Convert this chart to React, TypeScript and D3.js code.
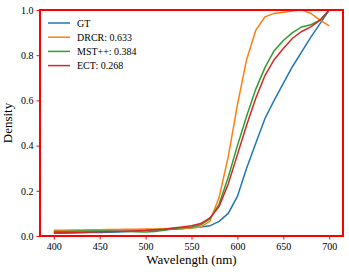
import { useEffect, useRef } from 'react';
import * as d3 from 'd3';

const wavelengths = d3.range(400, 701, 10);

const gt = [0.012, 0.012, 0.013, 0.014, 0.015, 0.016, 0.017, 0.018, 0.02, 0.022, 0.024, 0.026, 0.028, 0.03, 0.032, 0.036, 0.04, 0.045, 0.065, 0.1, 0.175, 0.3, 0.41, 0.52, 0.6, 0.675, 0.75, 0.815, 0.88, 0.94, 1.0];
const drcr = [0.025, 0.025, 0.026, 0.027, 0.028, 0.028, 0.029, 0.029, 0.03, 0.03, 0.031, 0.031, 0.032, 0.033, 0.034, 0.035, 0.04, 0.065, 0.17, 0.35, 0.58, 0.78, 0.91, 0.97, 0.985, 0.99, 0.995, 1.0, 0.985, 0.955, 0.93];
const mst = [0.02, 0.02, 0.021, 0.022, 0.022, 0.022, 0.022, 0.021, 0.02, 0.019, 0.018, 0.02, 0.025, 0.033, 0.036, 0.04, 0.05, 0.075, 0.14, 0.26, 0.4, 0.53, 0.65, 0.745, 0.82, 0.865, 0.9, 0.925, 0.935, 0.955, 1.0];
const ect = [0.015, 0.015, 0.016, 0.017, 0.018, 0.019, 0.02, 0.021, 0.022, 0.023, 0.025, 0.028, 0.03, 0.035, 0.04, 0.045, 0.055, 0.08, 0.13, 0.23, 0.36, 0.49, 0.61, 0.71, 0.78, 0.83, 0.875, 0.905, 0.925, 0.955, 1.0];

const seriesNames = ['GT', 'DRCR: 0.633', 'MST++: 0.384', 'ECT: 0.268'];
const seriesValues = [gt, drcr, mst, ect];
const seriesColors = ['#1f77b4', '#ff7f0e', '#2ca02c', '#d62728'];

const xTicks = [400, 450, 500, 550, 600, 650, 700];
const yTicks = [0, 0.2, 0.4, 0.6, 0.8, 1.0];

const WIDTH = 349;
const HEIGHT = 272;
const MARGIN = { top: 10, right: 6, bottom: 36, left: 40 };
const FONT = "'Liberation Serif', 'Times New Roman', Times, 'DejaVu Serif', serif";

export default function App() {
  const svgRef = useRef<SVGSVGElement>(null);

  useEffect(() => {
    if (!svgRef.current) return;
    const svg = d3.select(svgRef.current);
    svg.selectAll('*').remove();

    const innerWidth = WIDTH - MARGIN.left - MARGIN.right;
    const innerHeight = HEIGHT - MARGIN.top - MARGIN.bottom;

    const x = d3.scaleLinear().domain([385, 715]).range([0, innerWidth]);
    const y = d3.scaleLinear().domain([0, 1]).range([innerHeight, 0]);

    const g = svg.append('g').attr('transform', `translate(${MARGIN.left},${MARGIN.top})`);

    // lines
    const line = d3
      .line<number>()
      .x((_, i) => x(wavelengths[i]))
      .y((d) => y(d));

    seriesValues.forEach((vals, i) => {
      g.append('path')
        .datum(vals)
        .attr('fill', 'none')
        .attr('stroke', seriesColors[i])
        .attr('stroke-width', 1.5)
        .attr('d', line);
    });

    // axes
    const xAxis = g
      .append('g')
      .attr('transform', `translate(0,${innerHeight})`)
      .call(d3.axisBottom(x).tickValues(xTicks).tickSize(3.5).tickPadding(3).tickFormat(d3.format('d')));
    const yAxis = g
      .append('g')
      .call(d3.axisLeft(y).tickValues(yTicks).tickSize(3.5).tickPadding(3).tickFormat(d3.format('.1f')));

    [xAxis, yAxis].forEach((ax) => {
      ax.attr('font-family', null).attr('font-size', null);
      ax.select('.domain').remove();
      ax.selectAll('line').attr('stroke', '#ff0000').attr('stroke-width', 1);
      ax.selectAll('text').style('font-family', FONT).style('font-size', '10px').attr('fill', '#000');
    });

    // frame
    g.append('rect')
      .attr('x', 0)
      .attr('y', 0)
      .attr('width', innerWidth)
      .attr('height', innerHeight)
      .attr('fill', 'none')
      .attr('stroke', '#ff0000')
      .attr('stroke-width', 2);

    // legend
    const legend = g.append('g').attr('transform', 'translate(8,13)');
    seriesNames.forEach((name, i) => {
      const row = legend.append('g').attr('transform', `translate(0,${i * 14.2})`);
      row.append('line')
        .attr('x1', 0)
        .attr('x2', 22)
        .attr('y1', 0)
        .attr('y2', 0)
        .attr('stroke', seriesColors[i])
        .attr('stroke-width', 1.5);
      row.append('text')
        .attr('x', 29)
        .attr('y', 3.5)
        .style('font-family', FONT)
        .style('font-size', '10px')
        .attr('fill', '#000')
        .text(name);
    });

    // axis labels
    svg.append('text')
      .attr('x', MARGIN.left + innerWidth / 2)
      .attr('y', HEIGHT - 8)
      .attr('text-anchor', 'middle')
      .style('font-family', FONT)
      .style('font-size', '13px')
      .attr('fill', '#000')
      .text('Wavelength (nm)');

    svg.append('text')
      .attr('transform', `translate(12,${MARGIN.top + innerHeight / 2}) rotate(-90)`)
      .attr('text-anchor', 'middle')
      .style('font-family', FONT)
      .style('font-size', '13px')
      .attr('fill', '#000')
      .text('Density');
  }, []);

  return (
    <svg
      ref={svgRef}
      width={WIDTH}
      height={HEIGHT}
      viewBox={`0 0 ${WIDTH} ${HEIGHT}`}
      style={{ position: 'absolute', left: 0, top: 0, background: '#fff' }}
    />
  );
}
